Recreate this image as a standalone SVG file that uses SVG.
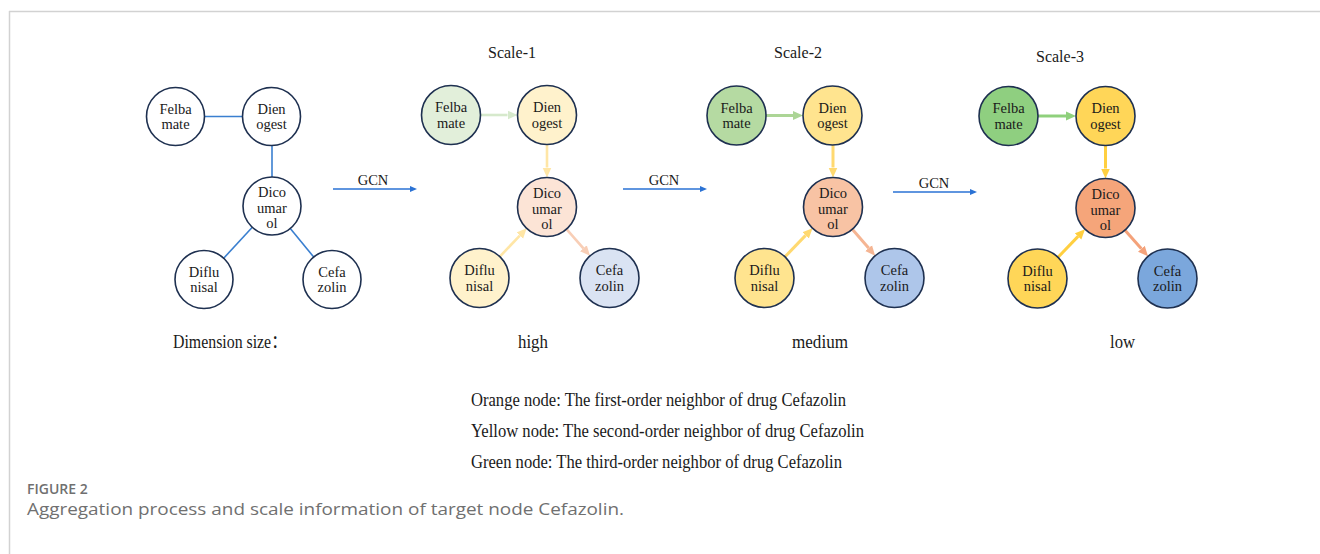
<svg xmlns="http://www.w3.org/2000/svg" width="1320" height="554" viewBox="0 0 1320 554">
<defs>
<style>
.nd{stroke:#1e3050;stroke-width:1.6}
.t{font-family:"Liberation Serif","Times New Roman",serif;font-size:14.5px;fill:#1a1a1a;text-anchor:middle}
.lbl{font-family:"Liberation Serif","Times New Roman",serif;font-size:16px;fill:#1a1a1a;text-anchor:middle}
.big{font-family:"Liberation Serif","Times New Roman","Noto Sans CJK SC",serif;font-size:18px;fill:#1a1a1a}
.e0{stroke:#3a7fd0;stroke-width:1.6;fill:none}
.gcn{stroke:#2a72d4;stroke-width:1.5;fill:none}
.a1{stroke-width:2.6;fill:none}
.a2{stroke-width:3;fill:none}
.cap{font-family:"Open Sans","Liberation Sans",sans-serif;fill:#707070}
</style>
<marker id="mb" viewBox="0 -4 7 8" refX="0" refY="0" markerWidth="7" markerHeight="8" markerUnits="userSpaceOnUse" orient="auto"><path d="M0,-3 L7,0 L0,3 z" fill="#2a72d4"/></marker>
<marker id="g1" viewBox="0 -5 10 10" refX="0" refY="0" markerWidth="10" markerHeight="10" markerUnits="userSpaceOnUse" orient="auto"><path d="M0,-4.5 L10,0 L0,4.5 z" fill="#d6e9cc"/></marker>
<marker id="y1" viewBox="0 -5 10 10" refX="0" refY="0" markerWidth="10" markerHeight="10" markerUnits="userSpaceOnUse" orient="auto"><path d="M0,-4.5 L10,0 L0,4.5 z" fill="#ffe6a6"/></marker>
<marker id="o1" viewBox="0 -5 10 10" refX="0" refY="0" markerWidth="10" markerHeight="10" markerUnits="userSpaceOnUse" orient="auto"><path d="M0,-4.5 L10,0 L0,4.5 z" fill="#f8ceb6"/></marker>
<marker id="g2" viewBox="0 -5 10 10" refX="0" refY="0" markerWidth="10" markerHeight="10" markerUnits="userSpaceOnUse" orient="auto"><path d="M0,-4.5 L10,0 L0,4.5 z" fill="#acd596"/></marker>
<marker id="y2" viewBox="0 -5 10 10" refX="0" refY="0" markerWidth="10" markerHeight="10" markerUnits="userSpaceOnUse" orient="auto"><path d="M0,-4.5 L10,0 L0,4.5 z" fill="#ffd970"/></marker>
<marker id="o2" viewBox="0 -5 10 10" refX="0" refY="0" markerWidth="10" markerHeight="10" markerUnits="userSpaceOnUse" orient="auto"><path d="M0,-4.5 L10,0 L0,4.5 z" fill="#f5b593"/></marker>
<marker id="g3" viewBox="0 -5 10 10" refX="0" refY="0" markerWidth="10" markerHeight="10" markerUnits="userSpaceOnUse" orient="auto"><path d="M0,-4.5 L10,0 L0,4.5 z" fill="#8fd07c"/></marker>
<marker id="y3" viewBox="0 -5 10 10" refX="0" refY="0" markerWidth="10" markerHeight="10" markerUnits="userSpaceOnUse" orient="auto"><path d="M0,-4.5 L10,0 L0,4.5 z" fill="#ffcf40"/></marker>
<marker id="o3" viewBox="0 -5 10 10" refX="0" refY="0" markerWidth="10" markerHeight="10" markerUnits="userSpaceOnUse" orient="auto"><path d="M0,-4.5 L10,0 L0,4.5 z" fill="#f4a27a"/></marker>
</defs>
<rect width="1320" height="554" fill="#ffffff"/>
<g id="frame">
<line x1="9" y1="11.5" x2="1320" y2="11.5" stroke="#d2d2d2" stroke-width="1.5"/>
<line x1="9.5" y1="11" x2="9.5" y2="554" stroke="#d2d2d2" stroke-width="1.5"/>
</g>

<g id="connectors">
<line class="e0" x1="204.5" y1="116.5" x2="242.5" y2="116.5"/>
<line class="e0" x1="272" y1="145.5" x2="272" y2="177"/>
<line class="e0" x1="252.3" y1="227.3" x2="223.7" y2="258.2"/>
<line class="e0" x1="290.3" y1="228.5" x2="313.7" y2="257"/>
<line class="gcn" x1="333" y1="189" x2="410" y2="189" marker-end="url(#mb)"/>
<line class="gcn" x1="623" y1="189" x2="700" y2="189" marker-end="url(#mb)"/>
<line class="gcn" x1="893" y1="192" x2="970" y2="192" marker-end="url(#mb)"/>
<line class="a1" stroke="#d6e9cc" x1="480.5" y1="115" x2="507.5" y2="115" marker-end="url(#g1)"/>
<line class="a1" stroke="#ffe6a6" x1="547" y1="144.5" x2="547" y2="167.5" marker-end="url(#y1)"/>
<line class="a1" stroke="#ffe6a6" x1="499.8" y1="256.6" x2="519.8" y2="235.6" marker-end="url(#y1)"/>
<line class="a1" stroke="#f8ceb6" x1="566.5" y1="229.2" x2="583.4" y2="248.3" marker-end="url(#o1)"/>
<line class="a2" stroke="#acd596" x1="766" y1="115.5" x2="793" y2="115.5" marker-end="url(#g2)"/>
<line class="a2" stroke="#ffd970" x1="833" y1="145" x2="833" y2="167.5" marker-end="url(#y2)"/>
<line class="a2" stroke="#ffd970" x1="785" y1="256.8" x2="805.6" y2="235.4" marker-end="url(#y2)"/>
<line class="a2" stroke="#f5b593" x1="852.3" y1="229.3" x2="868.6" y2="248.1" marker-end="url(#o2)"/>
<line class="a2" stroke="#8fd07c" x1="1038" y1="116" x2="1066" y2="116" marker-end="url(#g3)"/>
<line class="a2" stroke="#ffcf40" x1="1105.5" y1="145.5" x2="1105.5" y2="168.5" marker-end="url(#y3)"/>
<line class="a2" stroke="#ffcf40" x1="1058" y1="257.3" x2="1078.1" y2="236.4" marker-end="url(#y3)"/>
<line class="a2" stroke="#f4a27a" x1="1125" y1="230.2" x2="1141.4" y2="248.8" marker-end="url(#o3)"/>
</g>

<g id="labels">
<text class="t" style="font-size:14.5px" x="373" y="184.5">GCN</text>
<text class="t" style="font-size:14.5px" x="664" y="184.5">GCN</text>
<text class="t" style="font-size:14.5px" x="934" y="187.5">GCN</text>
<text class="lbl" x="512" y="57.5">Scale-1</text>
<text class="lbl" x="798" y="58">Scale-2</text>
<text class="lbl" x="1060" y="62">Scale-3</text>
<text class="big" x="173" y="348" textLength="114" lengthAdjust="spacingAndGlyphs">Dimension size：</text>
<text class="big" x="518" y="348" textLength="30" lengthAdjust="spacingAndGlyphs">high</text>
<text class="big" x="792" y="348" textLength="56" lengthAdjust="spacingAndGlyphs">medium</text>
<text class="big" x="1110" y="348" textLength="25" lengthAdjust="spacingAndGlyphs">low</text>
<text class="big" x="471" y="405.5" textLength="375" lengthAdjust="spacingAndGlyphs">Orange node: The first-order neighbor of drug Cefazolin</text>
<text class="big" x="471" y="436.5" textLength="393" lengthAdjust="spacingAndGlyphs">Yellow node: The second-order neighbor of drug Cefazolin</text>
<text class="big" x="471" y="467.5" textLength="371" lengthAdjust="spacingAndGlyphs">Green node: The third-order neighbor of drug Cefazolin</text>
<text class="cap" x="27" y="494" style="font-size:14px;font-weight:600">FIGURE 2</text>
<text class="cap" x="27" y="515" style="font-size:17px" textLength="597" lengthAdjust="spacingAndGlyphs">Aggregation process and scale information of target node Cefazolin.</text>
</g>

<g id="g0-felbamate"><circle class="nd" cx="175.5" cy="116.5" r="29" fill="#ffffff"/><text class="t" x="175.5" y="113.5">Felba</text><text class="t" x="175.5" y="129">mate</text></g>
<g id="g0-dienogest"><circle class="nd" cx="271.5" cy="116.5" r="29" fill="#ffffff"/><text class="t" x="271.5" y="113.5">Dien</text><text class="t" x="271.5" y="129">ogest</text></g>
<g id="g0-dicoumarol"><circle class="nd" cx="272" cy="206" r="29" fill="#ffffff"/><text class="t" x="272" y="197">Dico</text><text class="t" x="272" y="212.5">umar</text><text class="t" x="272" y="228">ol</text></g>
<g id="g0-diflunisal"><circle class="nd" cx="204" cy="279.5" r="29" fill="#ffffff"/><text class="t" x="204" y="276.5">Diflu</text><text class="t" x="204" y="292">nisal</text></g>
<g id="g0-cefazolin"><circle class="nd" cx="332" cy="279.5" r="29" fill="#ffffff"/><text class="t" x="332" y="276.5">Cefa</text><text class="t" x="332" y="292">zolin</text></g>

<g id="s1-felbamate"><circle class="nd" cx="451" cy="115" r="29.5" fill="#e2efda"/><text class="t" x="451" y="112">Felba</text><text class="t" x="451" y="127.5">mate</text></g>
<g id="s1-dienogest"><circle class="nd" cx="547" cy="115" r="29.5" fill="#fff2cc"/><text class="t" x="547" y="112">Dien</text><text class="t" x="547" y="127.5">ogest</text></g>
<g id="s1-dicoumarol"><circle class="nd" cx="547" cy="207" r="29.5" fill="#fce4d6"/><text class="t" x="547" y="198">Dico</text><text class="t" x="547" y="213.5">umar</text><text class="t" x="547" y="229">ol</text></g>
<g id="s1-diflunisal"><circle class="nd" cx="479.5" cy="278" r="29.5" fill="#fff2cc"/><text class="t" x="479.5" y="275">Diflu</text><text class="t" x="479.5" y="290.5">nisal</text></g>
<g id="s1-cefazolin"><circle class="nd" cx="609.5" cy="278" r="29.5" fill="#dae3f3"/><text class="t" x="609.5" y="275">Cefa</text><text class="t" x="609.5" y="290.5">zolin</text></g>

<g id="s2-felbamate"><circle class="nd" cx="736.5" cy="115.5" r="29.5" fill="#b5daa2"/><text class="t" x="736.5" y="112.5">Felba</text><text class="t" x="736.5" y="128">mate</text></g>
<g id="s2-dienogest"><circle class="nd" cx="832.5" cy="115.5" r="29.5" fill="#ffe48f"/><text class="t" x="832.5" y="112.5">Dien</text><text class="t" x="832.5" y="128">ogest</text></g>
<g id="s2-dicoumarol"><circle class="nd" cx="833" cy="207" r="29.5" fill="#f8c3a4"/><text class="t" x="833" y="198">Dico</text><text class="t" x="833" y="213.5">umar</text><text class="t" x="833" y="229">ol</text></g>
<g id="s2-diflunisal"><circle class="nd" cx="764.5" cy="278" r="29.5" fill="#ffe48f"/><text class="t" x="764.5" y="275">Diflu</text><text class="t" x="764.5" y="290.5">nisal</text></g>
<g id="s2-cefazolin"><circle class="nd" cx="894.5" cy="278" r="29.5" fill="#aec6ea"/><text class="t" x="894.5" y="275">Cefa</text><text class="t" x="894.5" y="290.5">zolin</text></g>

<g id="s3-felbamate"><circle class="nd" cx="1008.5" cy="116" r="29.5" fill="#8fcf80"/><text class="t" x="1008.5" y="113">Felba</text><text class="t" x="1008.5" y="128.5">mate</text></g>
<g id="s3-dienogest"><circle class="nd" cx="1105.5" cy="116" r="29.5" fill="#ffd658"/><text class="t" x="1105.5" y="113">Dien</text><text class="t" x="1105.5" y="128.5">ogest</text></g>
<g id="s3-dicoumarol"><circle class="nd" cx="1105.5" cy="208" r="29.5" fill="#f5a57a"/><text class="t" x="1105.5" y="199">Dico</text><text class="t" x="1105.5" y="214.5">umar</text><text class="t" x="1105.5" y="230">ol</text></g>
<g id="s3-diflunisal"><circle class="nd" cx="1037.5" cy="278.5" r="29.5" fill="#ffd658"/><text class="t" x="1037.5" y="275.5">Diflu</text><text class="t" x="1037.5" y="291">nisal</text></g>
<g id="s3-cefazolin"><circle class="nd" cx="1167.5" cy="278.5" r="29.5" fill="#7ba7dc"/><text class="t" x="1167.5" y="275.5">Cefa</text><text class="t" x="1167.5" y="291">zolin</text></g>
</svg>
